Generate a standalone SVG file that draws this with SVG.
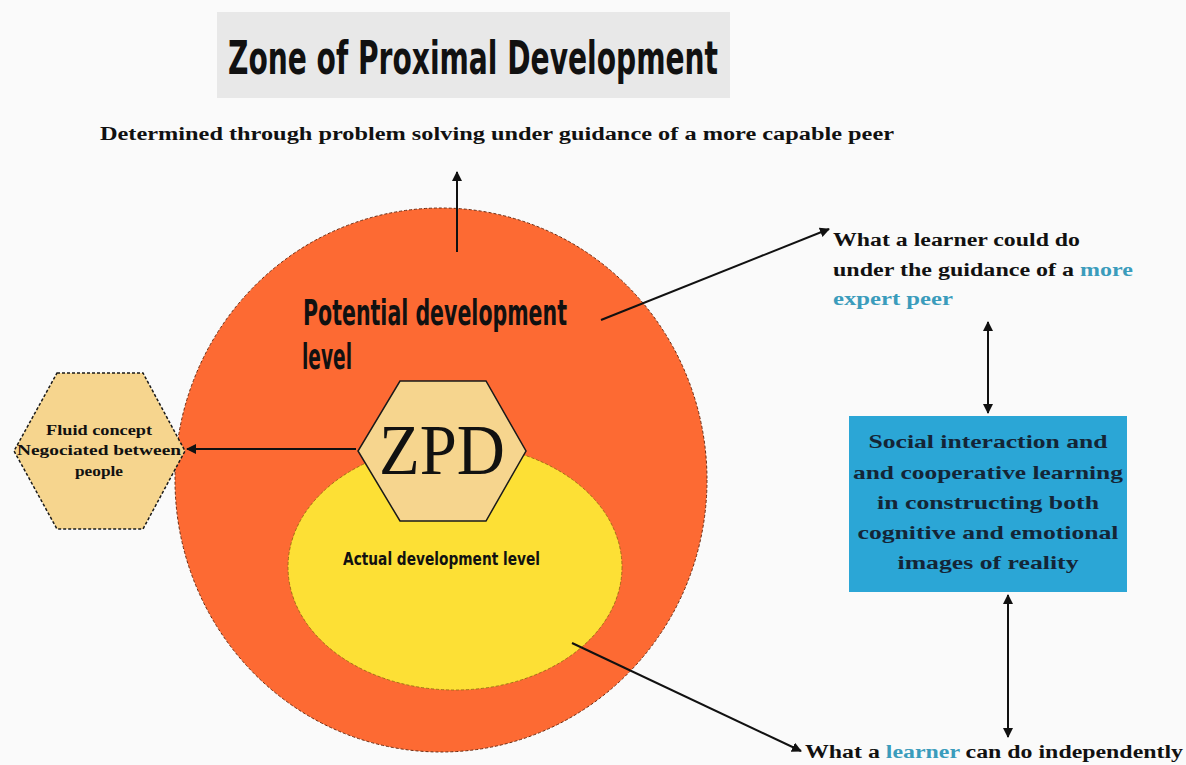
<svg xmlns="http://www.w3.org/2000/svg" width="1186" height="765" viewBox="0 0 1186 765">
  <style>
    .hand { font-family: "DejaVu Sans Condensed", "Liberation Sans Narrow", "Liberation Sans", sans-serif; font-weight: bold; font-stretch: condensed; fill: #111; }
    .slab { font-family: "Liberation Serif", "DejaVu Serif", serif; font-weight: bold; fill: #111; }
    .box-text { font-family: "Liberation Serif", "DejaVu Serif", serif; font-weight: bold; fill: #142536; font-size: 19px; }
    .accent { fill: #3a9cbc; }
    .link { stroke: #111; stroke-width: 2; fill: none; }
    .hex { fill: #f6d58e; stroke: #1a1a1a; stroke-width: 1.5; }
  </style>
  <defs>
    <marker id="arrow" viewBox="0 0 10 10" refX="9" refY="5" markerWidth="5" markerHeight="5" orient="auto-start-reverse">
      <path d="M0,0 L10,5 L0,10 z" fill="#111"/>
    </marker>
  </defs>

  <rect width="1186" height="765" fill="#fafafa"/>

  <!-- title -->
  <g id="title">
    <rect x="217" y="12" width="513" height="86" fill="#e8e8e8"/>
    <text class="hand" x="228" y="74" font-size="46" textLength="490" lengthAdjust="spacingAndGlyphs">Zone of Proximal Development</text>
  </g>

  <g id="peer-guidance">
    <text class="slab" x="100" y="140" font-size="18" textLength="794" lengthAdjust="spacingAndGlyphs">Determined through problem solving under guidance of a more capable  peer</text>
  </g>

  <!-- nested levels -->
  <g id="potential-level">
    <ellipse cx="441" cy="480" rx="266" ry="272" fill="#fd6a33" stroke="#6b2a10" stroke-width="1" stroke-dasharray="3 2"/>
    <text class="hand" x="303" y="325" font-size="36" textLength="264" lengthAdjust="spacingAndGlyphs">Potential development</text>
    <text class="hand" x="302" y="369" font-size="36" textLength="50" lengthAdjust="spacingAndGlyphs">level</text>
  </g>

  <g id="actual-level">
    <ellipse cx="455" cy="567" rx="167" ry="123" fill="#fde035" stroke="#8a6a10" stroke-width="0.8" stroke-dasharray="3 2"/>
    <text class="hand" x="343" y="565" font-size="18" textLength="197" lengthAdjust="spacingAndGlyphs">Actual development level</text>
  </g>

  <g id="zpd">
    <polygon class="hex" points="400,381 486,381 526,451 486,521 400,521 358,451"/>
    <text x="379" y="474" font-family="Liberation Serif, DejaVu Serif, serif" font-size="72" fill="#111" textLength="126" lengthAdjust="spacingAndGlyphs">ZPD</text>
  </g>

  <g id="fluid-concept">
    <polygon class="hex" points="57,373 143,373 185,451 143,529 57,529 14,451" stroke-dasharray="3 2"/>
    <g class="slab" font-size="14" text-anchor="middle">
      <text x="99" y="435" textLength="106" lengthAdjust="spacingAndGlyphs">Fluid concept</text>
      <text x="99" y="455" textLength="164" lengthAdjust="spacingAndGlyphs">Negociated between</text>
      <text x="99" y="476" textLength="48" lengthAdjust="spacingAndGlyphs">people</text>
    </g>
  </g>

  <g id="could-do">
    <g class="slab" font-size="18">
      <text x="833" y="246" textLength="247" lengthAdjust="spacingAndGlyphs">What a learner could do</text>
      <text x="833" y="276" textLength="300" lengthAdjust="spacingAndGlyphs">under the guidance of a <tspan class="accent">more</tspan></text>
      <text x="833" y="305" class="accent" textLength="120" lengthAdjust="spacingAndGlyphs">expert peer</text>
    </g>
  </g>

  <g id="social-interaction">
    <rect x="849" y="416" width="278" height="176" fill="#2ba6d6"/>
    <g class="box-text" text-anchor="middle">
      <text x="988" y="448" textLength="239" lengthAdjust="spacingAndGlyphs">Social interaction and</text>
      <text x="988" y="479" textLength="270" lengthAdjust="spacingAndGlyphs">and cooperative learning</text>
      <text x="988" y="509" textLength="222" lengthAdjust="spacingAndGlyphs">in constructing both</text>
      <text x="988" y="539" textLength="261" lengthAdjust="spacingAndGlyphs">cognitive and emotional</text>
      <text x="988" y="569" textLength="181" lengthAdjust="spacingAndGlyphs">images of reality</text>
    </g>
  </g>

  <g id="independent">
    <text class="slab" x="805" y="758" font-size="18" textLength="378" lengthAdjust="spacingAndGlyphs">What a  <tspan class="accent">learner</tspan> can do independently</text>
  </g>

  <!-- connectors -->
  <g id="connectors">
    <line class="link" x1="457" y1="252" x2="457" y2="172" marker-end="url(#arrow)"/>
    <line class="link" x1="601" y1="320" x2="829" y2="229" marker-end="url(#arrow)"/>
    <line class="link" x1="356" y1="449" x2="187" y2="449" marker-end="url(#arrow)"/>
    <line class="link" x1="572" y1="643" x2="801" y2="751" marker-end="url(#arrow)"/>
    <line class="link" x1="988" y1="322" x2="988" y2="413" marker-start="url(#arrow)" marker-end="url(#arrow)"/>
    <line class="link" x1="1008" y1="595" x2="1008" y2="737" marker-start="url(#arrow)" marker-end="url(#arrow)"/>
  </g>
</svg>
